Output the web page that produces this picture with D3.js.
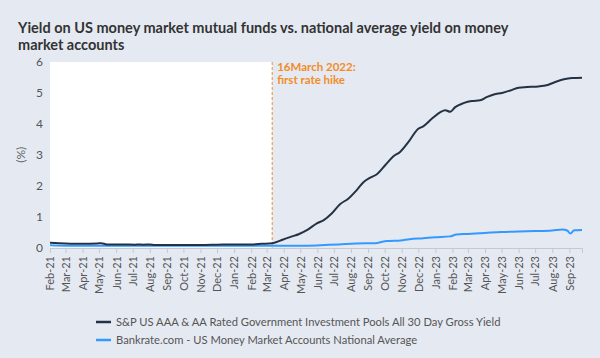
<!DOCTYPE html>
<html><head><meta charset="utf-8">
<script src="https://cdn.jsdelivr.net/npm/d3@7"></script>
<style>body{margin:0;background:#e5eaf2;} svg{display:block;}</style>
</head><body>
<svg id="c" width="600" height="358"></svg>
<script>
const titleLines = ["Yield on US money market mutual funds vs. national average yield on money", "market accounts"];
const seriesNames = ["S&P US AAA & AA Rated Government Investment Pools All 30 Day Gross Yield", "Bankrate.com - US Money Market Accounts National Average"];
const seriesColors = ["#243244", "#3399ff"];
const yTicks = [0,1,2,3,4,5,6];
const tickMonths = ["2021-02","2021-03","2021-04","2021-05","2021-06","2021-07","2021-08","2021-09","2021-10","2021-11","2021-12","2022-01","2022-02","2022-03","2022-04","2022-05","2022-06","2022-07","2022-08","2022-09","2022-10","2022-11","2022-12","2023-01","2023-02","2023-03","2023-04","2023-05","2023-06","2023-07","2023-08","2023-09"];
const hikeDate = "2022-03-11";
const hikeLabel = ["16March 2022:", "first rate hike"];
const dateDomain = ["2021-02-01", "2023-09-24"];

const spDates = ["2021-02-01","2021-03-01","2021-04-01","2021-04-28","2021-05-05","2021-05-15","2021-06-15","2021-07-05","2021-07-12","2021-07-20","2021-08-01","2021-08-10","2021-09-01","2021-10-01","2021-11-01","2021-12-01","2022-01-01","2022-02-01","2022-02-20","2022-03-11",
"2022-03-31","2022-04-16","2022-04-28","2022-05-13","2022-05-31","2022-06-12","2022-06-27","2022-07-12","2022-07-27","2022-08-12","2022-08-24","2022-09-05","2022-09-17","2022-10-02","2022-10-17","2022-10-29","2022-11-13","2022-12-01","2022-12-10","2022-12-26","2023-01-10","2023-01-19","2023-01-28","2023-02-06","2023-02-21","2023-03-08","2023-03-23","2023-04-05","2023-04-17","2023-05-02","2023-05-17","2023-06-01","2023-06-16","2023-07-07","2023-07-22","2023-08-03","2023-08-22","2023-09-06","2023-09-24"];
const spValues = [0.15,0.13,0.12,0.13,0.14,0.10,0.10,0.09,0.10,0.09,0.10,0.08,0.08,0.08,0.08,0.09,0.10,0.10,0.12,0.14,
0.26,0.36,0.43,0.56,0.78,0.88,1.10,1.40,1.58,1.87,2.12,2.26,2.37,2.66,2.95,3.09,3.41,3.84,3.92,4.17,4.38,4.44,4.39,4.54,4.67,4.74,4.76,4.87,4.95,5.00,5.08,5.17,5.19,5.21,5.25,5.33,5.44,5.48,5.49];

const brDates = ["2021-02-01","2021-03-01","2021-06-01","2021-09-01","2021-12-01","2022-03-01","2022-05-15","2022-06-15","2022-07-10","2022-08-10","2022-09-15","2022-09-25","2022-10-05","2022-10-30","2022-11-15","2022-12-10","2023-01-01","2023-01-28","2023-02-08","2023-03-01","2023-04-01","2023-05-01","2023-06-01","2023-07-01","2023-08-01","2023-08-20","2023-08-28","2023-09-03","2023-09-10","2023-09-24"];
const brValues = [0.07,0.06,0.06,0.06,0.06,0.06,0.06,0.08,0.10,0.13,0.14,0.18,0.21,0.23,0.27,0.30,0.33,0.36,0.42,0.44,0.47,0.50,0.52,0.53,0.55,0.58,0.55,0.45,0.56,0.57];

const parse = d3.timeParse("%Y-%m-%d");
const parseM = d3.timeParse("%Y-%m");
const svg = d3.select("#c");
const font = "Lato, 'Open Sans', sans-serif";
const L = 50, R = 582, T = 62, B = 247.5;

const x = d3.scaleTime().domain(dateDomain.map(parse)).range([L, R]);
const y = d3.scaleLinear().domain([0, 6]).range([B, T]);

// title
svg.append("g").selectAll("text").data(titleLines).join("text")
  .attr("x", 18).attr("y", (d,i) => 33 + i*16.5)
  .attr("font-family", font).attr("font-weight", 700).attr("font-size", 14.5)
  .attr("fill", "#333").text(d => d);

// white pre-hike area
svg.append("rect").attr("x", L).attr("y", T)
  .attr("width", x(parse(hikeDate)) - L).attr("height", B - T).attr("fill", "#fff");

// y axis
const ya = svg.append("g").attr("transform", `translate(${L},0)`)
  .call(d3.axisLeft(y).tickValues(yTicks).tickSize(0).tickPadding(7).tickFormat(d3.format("d")));
ya.select(".domain").remove();
ya.selectAll("text").attr("font-family", font).attr("font-size", 12).attr("fill", "#555");
svg.append("text").attr("transform", `translate(25,${(T+B)/2}) rotate(-90)`)
  .attr("text-anchor", "middle").attr("font-family", font).attr("font-size", 12).attr("fill", "#666").text("(%)");

// x axis
const xa = svg.append("g").attr("transform", `translate(0,${B+0.5})`)
  .call(d3.axisBottom(x).tickValues(tickMonths.map(parseM)).tickSize(5).tickFormat(d3.timeFormat("%b-%y")));
xa.select(".domain").attr("stroke", "#c4c9d0");
xa.selectAll(".tick line").attr("stroke", "#c4c9d0");
xa.selectAll("text").attr("font-family", font).attr("font-size", 11).attr("fill", "#555")
  .attr("transform", "rotate(-90)").attr("text-anchor", "end").attr("x", -8).attr("y", 0).attr("dy", "0.35em");

// hike line
const hx = x(parse(hikeDate));
svg.append("line").attr("x1", hx).attr("x2", hx).attr("y1", T).attr("y2", B)
  .attr("stroke", "#f28c28").attr("stroke-width", 1).attr("stroke-dasharray", "3,2");
svg.append("g").selectAll("text").data(hikeLabel).join("text")
  .attr("x", hx + 5).attr("y", (d,i) => 71 + i*12.5)
  .attr("font-family", font).attr("font-weight", 700).attr("font-size", 11.5)
  .attr("fill", "#f28c28").text(d => d);

// lines
const line = d3.line().x(d => x(d[0])).y(d => y(d[1])).curve(d3.curveMonotoneX);
const brData = brDates.map((d,i) => [parse(d), brValues[i]]);
const spData = spDates.map((d,i) => [parse(d), spValues[i]]);
svg.append("path").datum(brData).attr("d", line).attr("fill", "none").attr("stroke", seriesColors[1]).attr("stroke-width", 2);
svg.append("path").datum(spData).attr("d", line).attr("fill", "none").attr("stroke", seriesColors[0]).attr("stroke-width", 2);

// legend
const lg = svg.append("g").selectAll("g").data(seriesNames).join("g")
  .attr("transform", (d,i) => `translate(96,${322 + i*18})`);
lg.append("line").attr("x1", 0).attr("x2", 15).attr("stroke", (d,i) => seriesColors[i]).attr("stroke-width", 2.5);
lg.append("text").attr("x", 20).attr("dy", "0.35em").attr("font-family", font).attr("font-size", 11.2)
  .attr("fill", "#555").text(d => d);
</script>
</body></html>
